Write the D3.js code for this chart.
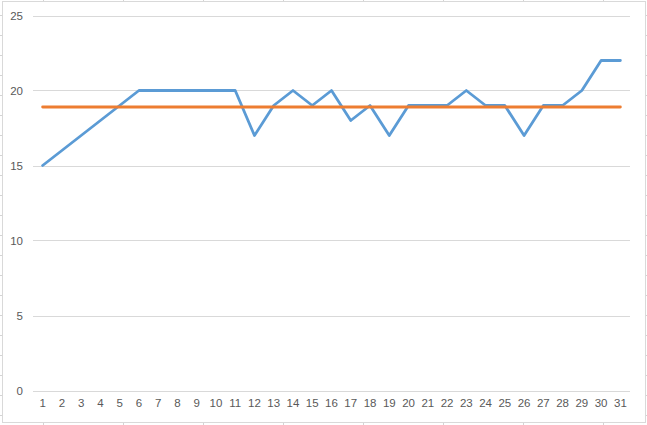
<!DOCTYPE html>
<html><head><meta charset="utf-8">
<script src="https://cdn.jsdelivr.net/npm/d3@7"></script>
<style>body{margin:0;background:#fff;}svg{display:block;font-family:"Liberation Sans",Arial,sans-serif;}</style>
</head><body>
<svg id="c" width="647" height="425"></svg>
<script>
const categories = [1,2,3,4,5,6,7,8,9,10,11,12,13,14,15,16,17,18,19,20,21,22,23,24,25,26,27,28,29,30,31];
const seriesBlue = [15,16,17,18,19,20,20,20,20,20,20,17,19,20,19,20,18,19,17,19,19,19,20,19,19,17,19,19,20,22,22];
const seriesOrange = [18.9,18.9,18.9,18.9,18.9,18.9,18.9,18.9,18.9,18.9,18.9,18.9,18.9,18.9,18.9,18.9,18.9,18.9,18.9,18.9,18.9,18.9,18.9,18.9,18.9,18.9,18.9,18.9,18.9,18.9,18.9];
const yTicks = [0,5,10,15,20,25];

const svg = d3.select("#c");
const W = 647, H = 425;

// spreadsheet cell grid peeking around the chart
const sheet = svg.append("g").attr("stroke","#d4d4d4").attr("stroke-width",1);
for (let yy = 15; yy < H; yy += 20) {
  sheet.append("line").attr("x1",0).attr("x2",2).attr("y1",yy+0.5).attr("y2",yy+0.5);
  sheet.append("line").attr("x1",646).attr("x2",647).attr("y1",yy+0.5).attr("y2",yy+0.5);
}
for (let xx = 44; xx < W; xx += 80) {
  sheet.append("line").attr("x1",xx-0.5).attr("x2",xx-0.5).attr("y1",0).attr("y2",1);
  sheet.append("line").attr("x1",xx-0.5).attr("x2",xx-0.5).attr("y1",423).attr("y2",425);
}
// chart border
svg.append("rect").attr("x",2.5).attr("y",1.5).attr("width",643).attr("height",421)
  .attr("fill","#fff").attr("stroke","#d9d9d9").attr("stroke-width",1);

const x = d3.scaleBand().domain(categories).range([33,630]).padding(0);
const y = d3.scaleLinear().domain([0,25]).range([390.5,15.5]);

// gridlines
svg.append("g").selectAll("line").data(yTicks).join("line")
  .attr("x1",33).attr("x2",630)
  .attr("y1",d=>Math.round(y(d))+0.5).attr("y2",d=>Math.round(y(d))+0.5)
  .attr("stroke","#d9d9d9").attr("stroke-width",1);

// y axis
const yAxis = svg.append("g").attr("transform","translate(23,0)")
  .call(d3.axisLeft(y).tickValues(yTicks).tickSize(0).tickPadding(0));
yAxis.select(".domain").remove();
yAxis.selectAll("text").attr("fill","#595959").style("font-size","11.5px").attr("dy","0.35em");

// x axis
const xAxis = svg.append("g").attr("transform","translate(0,399)")
  .call(d3.axisBottom(x).tickSize(0).tickPadding(0));
xAxis.select(".domain").remove();
xAxis.selectAll("text").attr("fill","#595959").style("font-size","11.5px");

const line = d3.line().x((d,i)=>x(categories[i])+x.bandwidth()/2).y(d=>y(d));

svg.append("path").datum(seriesBlue).attr("d",line)
  .attr("fill","none").attr("stroke","#5b9bd5").attr("stroke-width",2.8)
  .attr("stroke-linejoin","round").attr("stroke-linecap","round");
svg.append("path").datum(seriesOrange).attr("d",line)
  .attr("fill","none").attr("stroke","#ed7d31").attr("stroke-width",2.8)
  .attr("stroke-linejoin","round").attr("stroke-linecap","round");
</script>
</body></html>
